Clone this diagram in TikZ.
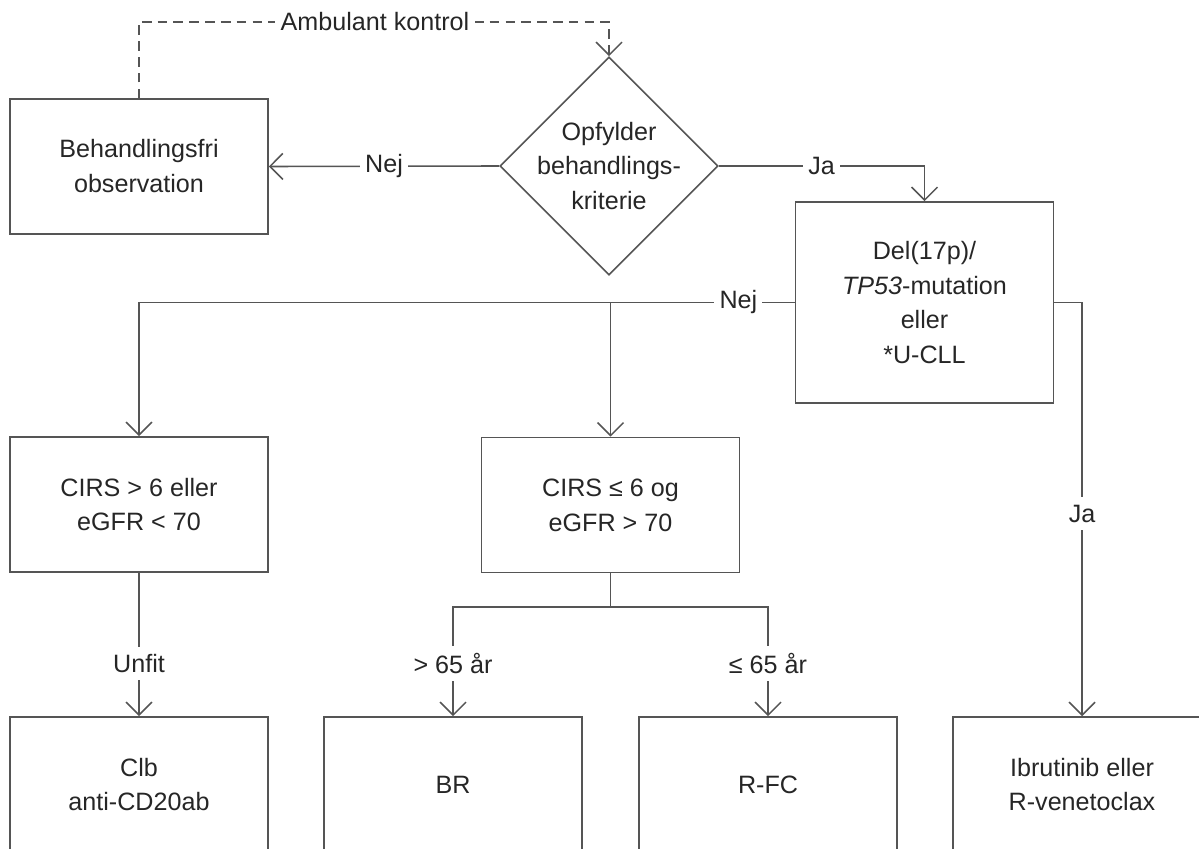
\documentclass[tikz,border=0pt]{standalone}
\usepackage{fontspec}
\setmainfont{Liberation Sans}
\usetikzlibrary{shapes.geometric,arrows.meta}
\definecolor{linegray}{HTML}{555555}
\definecolor{textgray}{HTML}{262626}
\begin{document}
\begin{tikzpicture}[x=0.02cm, y=-0.02cm,
    font=\fontsize{14.3}{19.9}\selectfont, text=textgray,
    box/.style={draw=linegray, line width=0.9pt, minimum width=5.16cm, minimum height=2.7cm, align=center, inner sep=0pt},
    tallbox/.style={box, minimum height=4.02cm},
    decision/.style={draw=linegray, line width=0.9pt, shape=diamond, aspect=1, minimum width=4.36cm, minimum height=4.36cm, inner sep=0pt},
    conn/.style={draw=linegray, line width=0.9pt},
    arr/.style={conn, -{Straight Barb[length=2.6mm, width=5.2mm]}},
    dashconn/.style={arr, dash pattern=on 5.5pt off 3.5pt},
    lbl/.style={fill=white, inner xsep=3pt, inner ysep=4.2pt}]
      \useasboundingbox (0, 0) rectangle (1199, 848);
      \clip (0, 0) rectangle (1199, 848);
      \node [box] (obs) at (139, 166.5) {Behandlingsfri\\observation};
      \node [decision] (crit) at (609, 166) {};
      \node [align=center] (critText) at (crit) {Opfylder\\behandlings-\\kriterie};
      \node [tallbox] (del) at (924.5, 302.5) {Del(17p)/\\\textit{TP53}-mutation\\eller\\*U-CLL};
      \node [box] (cirsA) at (139, 504.5) {CIRS > 6 eller\\eGFR < 70};
      \node [box] (cirsB) at (610.5, 505) {CIRS ≤ 6 og\\eGFR > 70};
      \node [box] (clb) at (139, 784.5) {Clb\\anti-CD20ab};
      \node [box] (br) at (453, 784.5) {BR};
      \node [box] (rfc) at (768, 784.5) {R-FC};
      \node [box] (ibr) at (1082, 784.5) {Ibrutinib eller\\R-venetoclax};
      \coordinate (ctrlTop) at (375, 22);
      \coordinate (nejFork) at (cirsB.north |- del.west);
      \coordinate (ageFork) at (610.5, 607);
      \draw [dashconn] (obs.north) |- node [lbl, pos=1] {Ambulant kontrol} (ctrlTop) -| (crit.north);
      \draw [arr] (crit.west) -- node [lbl] {Nej} (obs.east);
      \draw [arr] (crit.east) -| node [lbl, pos=0.25] {Ja} (del.north);
      \draw [arr] (del.west) -| node [lbl, pos=0.043] {Nej} (cirsA.north);
      \draw [arr] (nejFork) -- (cirsB.north);
      \draw [arr] (del.east) -| node [lbl, pos=0.755] {Ja} (ibr.north);
      \draw [arr] (cirsA.south) -- node [lbl, pos=0.63] {Unfit} (clb.north);
      \draw [conn] (cirsB.south) -- (ageFork);
      \draw [arr] (ageFork) -| node [lbl, pos=0.76] {> 65 år} (br.north);
      \draw [arr] (ageFork) -| node [lbl, pos=0.76] {≤ 65 år} (rfc.north);
\end{tikzpicture}
\end{document}
